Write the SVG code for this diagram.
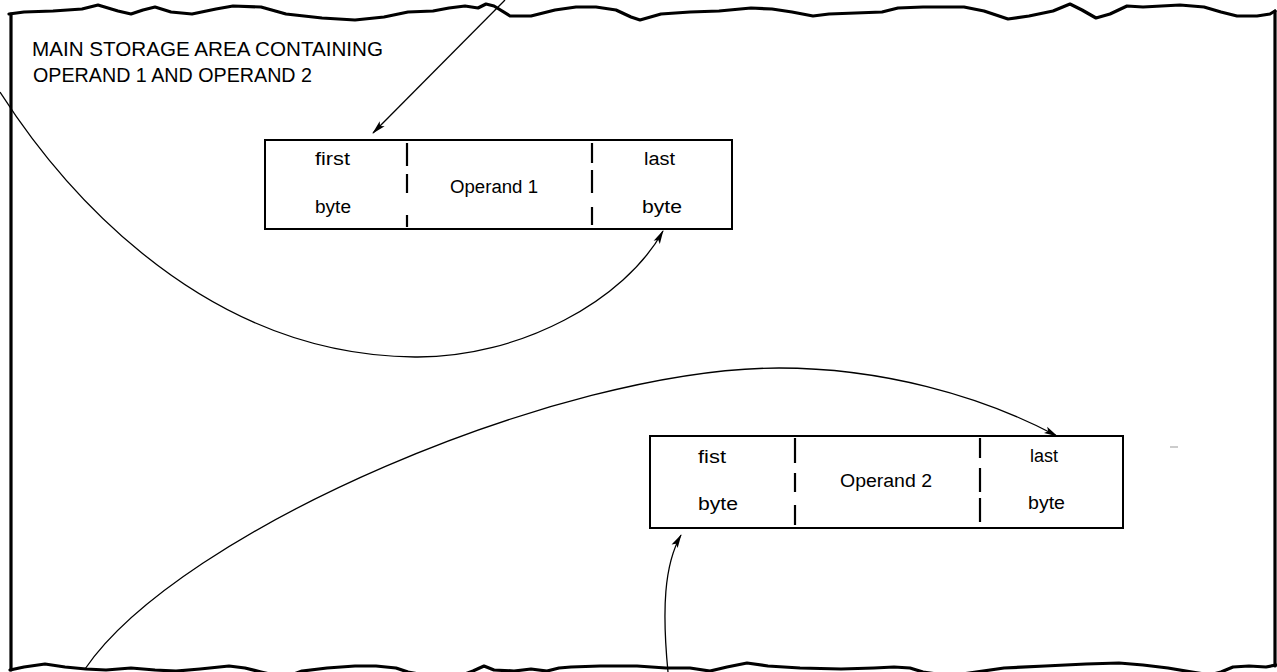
<svg xmlns="http://www.w3.org/2000/svg" width="1277" height="672" viewBox="0 0 1277 672">
<style>
.frame{fill:none;stroke:#000;stroke-width:3.2;stroke-linejoin:round;stroke-linecap:round}
.box{fill:#fff;stroke:#000;stroke-width:2}
.dash{stroke:#000;stroke-width:2.2}
.conn{fill:none;stroke:#000;stroke-width:1.3}
.t{font-family:"Liberation Sans",Arial,sans-serif;font-size:18px;fill:#000}
.title{font-family:"Liberation Sans",Arial,sans-serif;font-size:20px;fill:#000}
</style>
<defs>
<marker id="ah" viewBox="0 0 14 8" refX="13" refY="4" markerWidth="14" markerHeight="8" markerUnits="userSpaceOnUse" orient="auto">
<path d="M0,0.5 L14,4 L0,7.5 L3,4 Z" fill="#000"/>
</marker>
</defs>
<rect width="1277" height="672" fill="#fff"/>
<g id="frame">
<polyline class="frame" points="9,14 24,12 53,11 82,9 98,5 118,11 131,14 143,10 155,7 171,12 192,14 216,9 233,6 261,7 286,14 322,18 355,20 384,17 408,12 433,11 449,8 465,6 478,8 486,4 494,6 510,16 531,16 555,10 576,7 596,7 616,10 631,17 640,20 661,14 690,12 719,11 751,8 772,9 792,12 813,16 829,14 882,12 898,8 923,7 964,7 984,11 1008,19 1029,16 1053,11 1070,4 1082,10 1096,18 1110,14 1127,6 1143,7 1180,5 1204,7 1221,12 1237,16 1257,16 1270,14 1275,11"/>
<line class="frame" x1="11" y1="14" x2="11" y2="670"/>
<line class="frame" x1="1275" y1="11" x2="1275" y2="666"/>
<polyline class="frame" points="10,670 24,667 45,664 65,667 86,669 106,670 131,668 155,670 176,671 200,669 229,666 245,668 261,672 278,676 294,674 302,671 327,668 355,666 376,666 396,668 408,672 429,676 465,674 473,671 484,666 494,670 514,671 531,669 547,671 559,668 571,667 600,666 637,666 666,668 690,668 710,671 727,667 747,663 768,666 800,668 841,669 874,668 894,667 910,668 923,672 950,676 976,672 1004,668 1045,666 1086,664 1119,663 1143,665 1168,668 1192,672 1210,675 1221,672 1233,667 1249,666 1266,667 1276,665"/>
</g>
<g id="title">
<text class="title" x="32" y="56" textLength="351" lengthAdjust="spacingAndGlyphs">MAIN STORAGE AREA CONTAINING</text>
<text class="title" x="33" y="82" textLength="279" lengthAdjust="spacingAndGlyphs">OPERAND 1 AND OPERAND 2</text>
</g>
<g id="operand1">
<rect class="box" x="265" y="140" width="467" height="89"/>
<line class="dash" x1="407" y1="143" x2="407" y2="166"/>
<line class="dash" x1="407" y1="174" x2="407" y2="193"/>
<line class="dash" x1="407" y1="215" x2="407" y2="227"/>
<line class="dash" x1="592" y1="143" x2="592" y2="163"/>
<line class="dash" x1="592" y1="170" x2="592" y2="193"/>
<line class="dash" x1="592" y1="207" x2="592" y2="225"/>
<text class="t" x="315" y="165" textLength="35" lengthAdjust="spacingAndGlyphs">first</text>
<text class="t" x="315" y="213" textLength="36" lengthAdjust="spacingAndGlyphs">byte</text>
<text class="t" x="450" y="193" textLength="88" lengthAdjust="spacingAndGlyphs">Operand 1</text>
<text class="t" x="644" y="165" textLength="31" lengthAdjust="spacingAndGlyphs">last</text>
<text class="t" x="642" y="213" textLength="40" lengthAdjust="spacingAndGlyphs">byte</text>
</g>
<g id="operand2">
<rect class="box" x="650" y="436" width="473" height="92"/>
<line class="dash" x1="795" y1="438" x2="795" y2="463"/>
<line class="dash" x1="795" y1="473" x2="795" y2="492"/>
<line class="dash" x1="795" y1="505" x2="795" y2="525"/>
<line class="dash" x1="980" y1="438" x2="980" y2="458"/>
<line class="dash" x1="980" y1="468" x2="980" y2="492"/>
<line class="dash" x1="980" y1="498" x2="980" y2="522"/>
<text class="t" x="698" y="463" textLength="28" lengthAdjust="spacingAndGlyphs">fist</text>
<text class="t" x="698" y="510" textLength="40" lengthAdjust="spacingAndGlyphs">byte</text>
<text class="t" x="840" y="487" textLength="92" lengthAdjust="spacingAndGlyphs">Operand 2</text>
<text class="t" x="1030" y="462" textLength="28" lengthAdjust="spacingAndGlyphs">last</text>
<text class="t" x="1028" y="509" textLength="37" lengthAdjust="spacingAndGlyphs">byte</text>
</g>
<g id="connectors">
<path class="conn" d="M505,0 L373,133" marker-end="url(#ah)"/>
<path class="conn" d="M0,92 C50,170 190,355 415,357 C520,358 625,300 663,231" marker-end="url(#ah)"/>
<path class="conn" d="M85,669 C180,530 560,368 779,368 C880,368 980,395 1057,436" marker-end="url(#ah)"/>
<path class="conn" d="M668,672 C662,610 664,565 681,535" marker-end="url(#ah)"/>
</g>
<line x1="1170" y1="447" x2="1178" y2="447" stroke="#999" stroke-width="1"/>
</svg>
